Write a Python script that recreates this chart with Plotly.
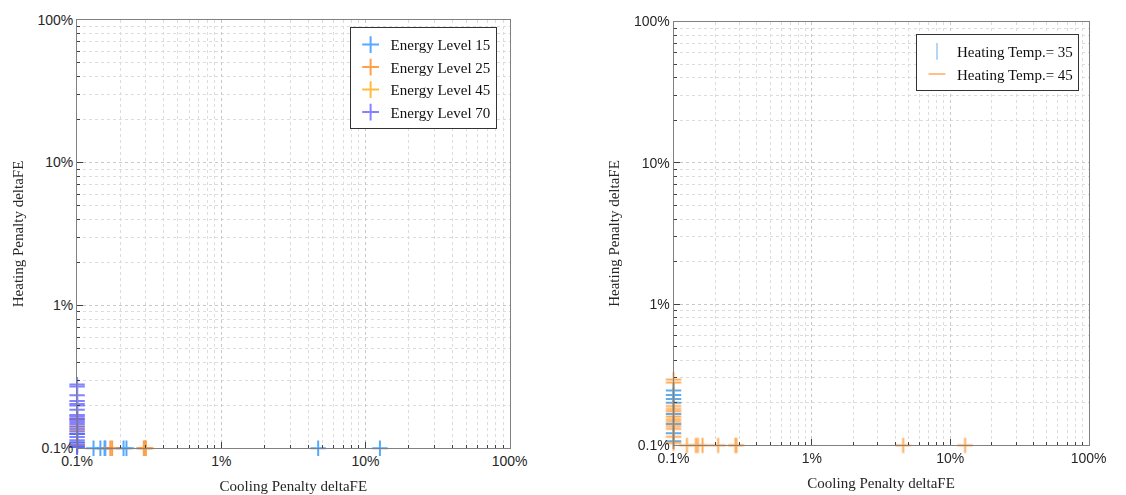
import plotly.graph_objects as go

# ---------------- data (values in percent) ----------------
# Left panel: Energy levels
el15_x = [0.13, 0.145, 0.155, 0.157, 0.21, 0.22, 4.7, 12.6, 0.1, 0.1, 0.1]
el15_y = [0.1, 0.1, 0.1, 0.1, 0.1, 0.1, 0.1, 0.1, 0.102, 0.11, 0.126]
el25_x = [0.17, 0.175, 0.29, 0.295, 0.3, 0.1, 0.1]
el25_y = [0.1, 0.1, 0.1, 0.1, 0.1, 0.106, 0.16]
el45_x = [0.1, 0.1]
el45_y = [0.134, 0.142]
el70_x = [0.1] * 22
el70_y = [0.279, 0.271, 0.235, 0.214, 0.204, 0.199, 0.186, 0.171, 0.168, 0.162,
          0.158, 0.153, 0.148, 0.142, 0.137, 0.131, 0.126, 0.12, 0.114, 0.11,
          0.105, 0.102]

# Right panel: Heating temperatures
ht35_x = [0.1] * 8
ht35_y = [0.245, 0.227, 0.213, 0.2, 0.167, 0.142, 0.122, 0.107]
ht45_x = [0.125, 0.145, 0.15, 0.162, 0.21, 0.28, 0.285, 4.57, 12.8,
          0.1, 0.1, 0.1, 0.1, 0.1, 0.1, 0.1, 0.1, 0.1, 0.1, 0.1, 0.1]
ht45_y = [0.1, 0.1, 0.1, 0.1, 0.1, 0.1, 0.1, 0.1, 0.1,
          0.292, 0.278, 0.19, 0.181, 0.174, 0.16, 0.153, 0.147, 0.137, 0.131,
          0.115, 0.104]

tick_vals = [0.1, 1, 10, 100]
tick_text = ["0.1%", "1%", "10%", "100%"]
minor_vals = [d * m for d in (0.1, 1, 10) for m in range(2, 10)]

# ---------------- figure ----------------
fig = go.Figure()

def add(x, y, name, color, xa, ya, legend, opacity=0.75, showlegend=True):
    fig.add_trace(go.Scatter(
        x=x, y=y, mode="markers", name=name, xaxis=xa, yaxis=ya,
        legend=legend, showlegend=showlegend, cliponaxis=False,
        opacity=opacity,
        marker=dict(symbol="cross-thin", size=11,
                    line=dict(color=color, width=2), color=color)))

add(el15_x, el15_y, "Energy Level 15", "#1f8cff", "x", "y", "legend")
add(el25_x, el25_y, "Energy Level 25", "#ff7f0e", "x", "y", "legend")
add(el45_x, el45_y, "Energy Level 45", "#ffa500", "x", "y", "legend")
add(el70_x, el70_y, "Energy Level 70", "#5a5aff", "x", "y", "legend")

add(ht35_x, ht35_y, "Heating Temp.= 35", "#2f8ee0", "x2", "y2", "legend2",
    opacity=0.75, showlegend=False)
add(ht45_x, ht45_y, "Heating Temp.= 45", "#ff8000", "x2", "y2", "legend2",
    opacity=0.65, showlegend=False)
# legend icons for the right panel
fig.add_trace(go.Scatter(x=[None], y=[None], mode="markers", name="Heating Temp.= 35",
                         xaxis="x2", yaxis="y2", legend="legend2",
                         marker=dict(symbol="line-ns", size=11,
                                     line=dict(color="#b5d6f3", width=1.6))))
fig.add_trace(go.Scatter(x=[None], y=[None], mode="markers", name="Heating Temp.= 45",
                         xaxis="x2", yaxis="y2", legend="legend2",
                         marker=dict(symbol="line-ew", size=11,
                                     line=dict(color="#ffc088", width=1.6))))

tickfont = dict(family="Liberation Sans", size=14, color="#262626")
titlefont = dict(family="Liberation Serif", size=15, color="#262626")

def axis(domain, anchor, title, standoff):
    return dict(
        type="log", range=[-1, 2], domain=domain, anchor=anchor,
        tickmode="array", tickvals=tick_vals, ticktext=tick_text, tickfont=tickfont,
        title=dict(text=title, font=titlefont, standoff=standoff),
        showline=True, linecolor="#808080", linewidth=1, mirror=True,
        ticks="inside", ticklen=6, tickcolor="#404040",
        showgrid=True, gridcolor="#c8c8c8", griddash="dot", gridwidth=1,
        minor=dict(tickmode="array", tickvals=minor_vals,
                   ticks="inside", ticklen=3, tickcolor="#404040",
                   showgrid=True, gridcolor="#dcdcdc", griddash="dot"),
        zeroline=False,
    )

fig.update_layout(
    width=1126, height=495,
    margin=dict(l=0, r=0, t=0, b=0),
    paper_bgcolor="white", plot_bgcolor="white",
    xaxis=axis([63/1126, 509/1126], "y", "Cooling Penalty deltaFE", 12),
    yaxis=axis([1-455/495, 1-12/495], "x", "Heating Penalty deltaFE", 10),
    xaxis2=axis([678/1126, 1106/1126], "y2", "Cooling Penalty deltaFE", 12),
    yaxis2=axis([1-452/495, 1-14/495], "x2", "Heating Penalty deltaFE", 10),
    legend=dict(x=344/1126, y=1-20/495, xanchor="left", yanchor="top",
                bgcolor="white", bordercolor="#333333", borderwidth=1,
                font=dict(family="Liberation Serif", size=15, color="#111111"),
                tracegroupgap=0, itemsizing="constant"),
    legend2=dict(x=928/1126, y=1-27/495, xanchor="left", yanchor="top",
                 bgcolor="white", bordercolor="#333333", borderwidth=1,
                 font=dict(family="Liberation Serif", size=15, color="#111111"),
                 tracegroupgap=0, itemsizing="constant"),
)

fig.write_html("out.html")
